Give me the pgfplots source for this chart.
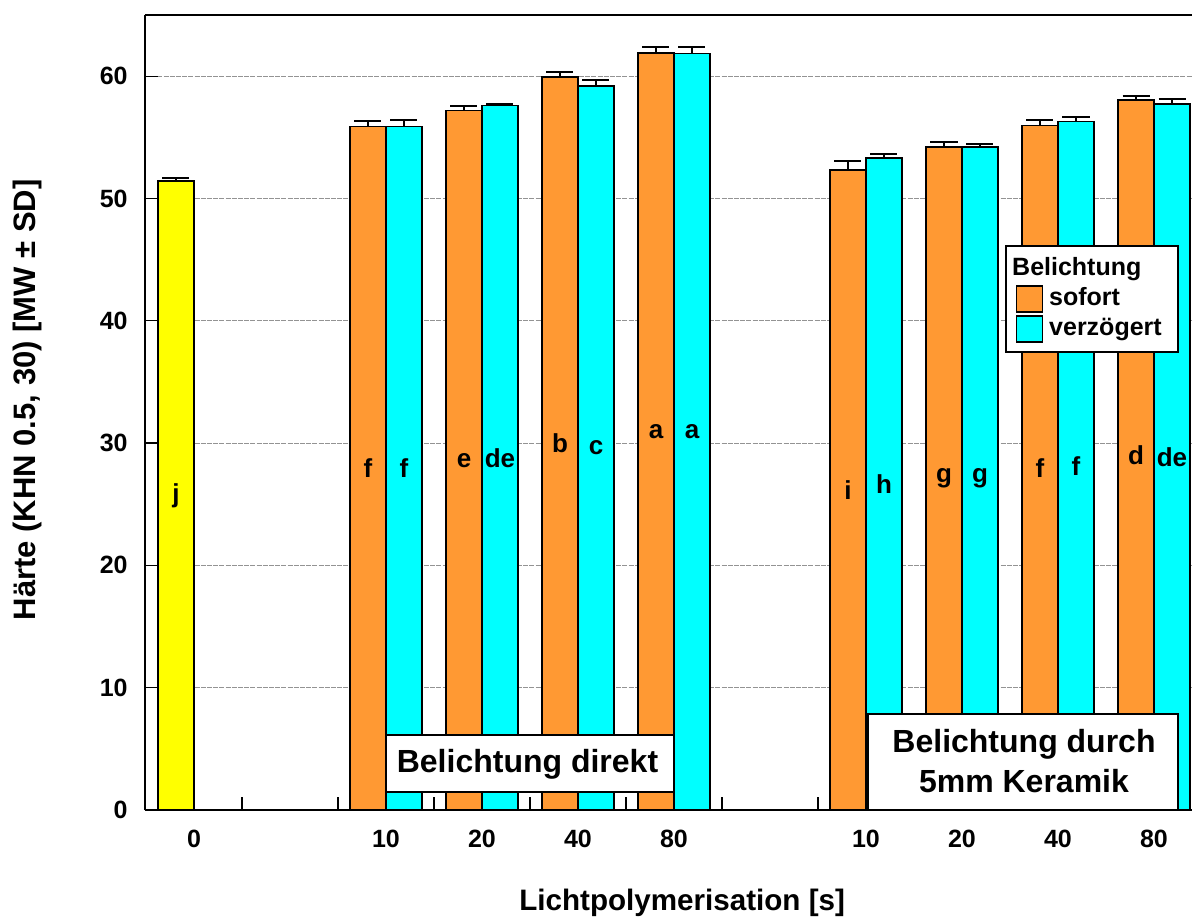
\documentclass[border=0pt]{standalone}
\usepackage{fontspec}
\setmainfont{Liberation Sans}
\usepackage{pgfplots}
\usepackage{pgfplotstable}
\pgfplotsset{compat=1.18}
\definecolor{orangeC}{HTML}{FF9933}
\definecolor{cyanC}{HTML}{00FFFF}
\definecolor{yellowC}{HTML}{FFFF00}

% x = group position, y = mean, err = SD, lab = letter
\pgfplotstableread{
x y err lab
0 51.45 0.25 j
}\kontrolle
\pgfplotstableread{
x y err lab
2 55.9 0.45 f
3 57.2 0.40 e
4 59.95 0.40 b
5 61.9 0.50 a
7 52.35 0.75 i
8 54.2 0.45 g
9 55.95 0.50 f
10 58.05 0.30 d
}\sofort
\pgfplotstableread{
x y err lab
2 55.9 0.50 f
3 57.6 0.15 de
4 59.2 0.50 c
5 61.85 0.55 a
7 53.3 0.30 h
8 54.2 0.25 g
9 56.3 0.40 f
10 57.7 0.40 de
}\verzoegert

\newcommand\tickfont{\bfseries\fontsize{12.5}{15}\selectfont}
\newcommand\labfont{\bfseries\fontsize{13}{15}\selectfont}
\newcommand\boxfont{\bfseries\fontsize{16}{19}\selectfont}

\pgfplotsset{
  barstyle/.style={ybar, bar width=0.375, bar shift=0, draw=black, line width=0.8pt,
    error bars/y dir=plus, error bars/y explicit, error bars/error mark=|,
    error bars/error bar style={line width=1pt, black},
    error bars/error mark options={line width=1pt, mark size=6.75pt, black}},
  labstyle/.style={forget plot, draw=none, mark=none, nodes near coords, point meta=explicit symbolic,
    nodes near coords align={center}, nodes near coords style={anchor=center, font=\labfont}},
}

\begin{document}
\begin{tikzpicture}
\useasboundingbox (-72.5pt,-55pt) rectangle (523.5pt,405pt);
\begin{axis}[
  at={(0,0)}, anchor=south west,
  scale only axis, width=523.5pt, height=397.5pt,
  xmin=-0.5104, xmax=10.396, ymin=0, ymax=65,
  axis x line*=box, axis y line*=left,
  axis line style={line width=1pt, black},
  xtick={0,2,3,4,5,7,8,9,10},
  xticklabels={0,10,20,40,80,10,20,40,80},
  minor xtick={0.5,1.5,...,9.5},
  xtick pos=bottom,
  ytick={0,10,...,60},
  tick align=inside,
  major tick length=6.5pt, minor tick length=6.5pt,
  tick style={black, line width=0.6pt},
  major x tick style={draw=none},
  ymajorgrids, xmajorgrids=false,
  major grid style={gray!85, line width=0.5pt, dash pattern=on 2.5pt off 0.6pt},
  /pgf/number format/assume math mode=true,
  ticklabel style={font=\tickfont, inner sep=0pt},
  xticklabel style={anchor=base, yshift=-18.5pt},
  yticklabel style={anchor=east, xshift=-8.5pt},
  every axis y label/.style={at={(axis description cs:-0.112,0.516)}, rotate=90, anchor=center, font=\bfseries\fontsize{15.5}{18}\selectfont},
  every axis x label/.style={at={(axis description cs:0.513,-0.127)}, anchor=base, font=\bfseries\fontsize{14.8}{18}\selectfont},
  ylabel={Härte (KHN 0.5, 30) [MW ± SD]},
  xlabel={Lichtpolymerisation [s]},
  legend style={at={(axis description cs:0.821,0.7107)}, anchor=north west,
    draw=black, line width=1pt, fill=white, inner xsep=5pt, inner ysep=4pt,
    font=\bfseries\fontsize{12.5}{15}\selectfont,
    nodes={inner ysep=1.25pt, inner xsep=3pt, text height=9.5pt, text depth=3pt},
    row sep=0pt},
  legend cell align=left,
  legend image code/.code={\draw[#1, line width=0.8pt] (0pt,-6.5pt) rectangle (13pt,6.5pt);},
]
\addlegendimage{empty legend}
\addlegendentry{\hspace*{-18.5pt}Belichtung}

\addplot[barstyle, fill=yellowC, forget plot]
  table[x expr=\thisrow{x}-0.1875, y=y, y error=err] {\kontrolle};

\addplot[barstyle, fill=orangeC]
  table[x expr=\thisrow{x}-0.1875, y=y, y error=err] {\sofort};
\addlegendentry{sofort}

\addplot[barstyle, fill=cyanC]
  table[x expr=\thisrow{x}+0.1875, y=y, y error=err] {\verzoegert};
\addlegendentry{verzögert}

\addplot[labstyle] table[x expr=\thisrow{x}-0.1875, y expr=\thisrow{y}/2, meta=lab] {\kontrolle};
\addplot[labstyle] table[x expr=\thisrow{x}-0.1875, y expr=\thisrow{y}/2, meta=lab] {\sofort};
\addplot[labstyle] table[x expr=\thisrow{x}+0.1875, y expr=\thisrow{y}/2, meta=lab] {\verzoegert};

\draw[fill=white, line width=1pt] (axis cs:2,1.44) rectangle (axis cs:5,6.1);
\node[font=\boxfont, anchor=base, inner sep=0pt] at (axis cs:3.474,3.03) {Belichtung direkt};
\draw[fill=white, line width=1pt] (axis cs:7.02,0) rectangle (axis cs:10.25,7.82);
\node[font=\boxfont, anchor=base, inner sep=0pt] at (axis cs:8.646,4.74) {Belichtung durch};
\node[font=\boxfont, anchor=base, inner sep=0pt] at (axis cs:8.646,1.47) {5mm Keramik};
\end{axis}
\end{tikzpicture}
\end{document}
